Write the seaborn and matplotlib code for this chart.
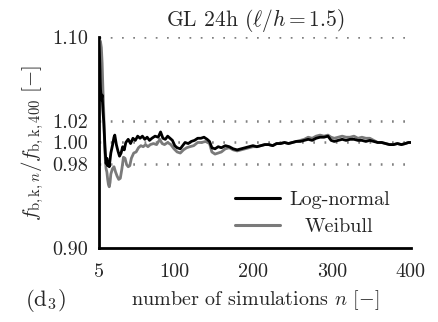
import numpy as np
import pandas as pd
import matplotlib
matplotlib.use("Agg")
import matplotlib.pyplot as plt
import seaborn as sns

# Convergence of the characteristic strength ratio f_{b,k,n} / f_{b,k,400}
n_lognormal = [5, 6, 7, 8, 9, 10, 11, 12, 13, 14, 15, 16, 17, 18, 20, 22, 24, 25, 27, 29,
               31, 33, 35, 37, 39, 42, 45, 48, 51, 54, 57, 60, 63, 66, 69, 72, 76, 80, 83, 86,
               89, 92, 95, 98, 101, 104, 108, 111, 114, 118, 122, 126, 130, 134, 138, 142, 145, 148, 152, 156,
               160, 165, 170, 175, 180, 185, 190, 195, 200, 205, 210, 215, 220, 225, 230, 235, 240, 245, 250, 255,
               260, 265, 270, 275, 280, 285, 290, 295, 299, 303, 308, 313, 318, 323, 328, 333, 338, 343, 348, 353,
               358, 363, 368, 373, 378, 383, 388, 393, 397, 400]
ratio_lognormal = [1.100, 1.075, 1.050, 1.040, 1.045, 1.030, 1.020, 1.005, 0.990, 0.980, 0.985, 0.978, 0.982, 0.977, 0.990, 0.997, 1.005, 1.007, 0.998, 0.992,
                   0.987, 0.990, 0.996, 0.993, 1.000, 1.003, 0.999, 1.004, 1.002, 1.006, 1.004, 1.006, 1.003, 1.005, 1.002, 1.004, 1.006, 1.005, 1.010, 1.004,
                   1.003, 1.006, 1.004, 1.002, 0.997, 0.995, 0.994, 0.997, 1.000, 0.999, 1.001, 1.002, 1.004, 1.004, 1.005, 1.003, 1.001, 0.995, 0.994, 0.996,
                   0.995, 0.997, 0.996, 0.994, 0.993, 0.994, 0.995, 0.996, 0.997, 0.996, 0.997, 0.998, 0.998, 0.997, 0.999, 0.999, 1.000, 0.999, 1.000, 1.001,
                   1.001, 1.002, 1.003, 1.002, 1.004, 1.005, 1.005, 1.006, 1.002, 1.001, 1.002, 1.003, 1.002, 1.003, 1.003, 1.002, 1.002, 1.001, 1.002, 1.001,
                   1.000, 1.000, 0.999, 0.998, 0.998, 0.999, 0.998, 0.999, 1.000, 1.000]

n_weibull = [5, 6, 7, 8, 9, 10, 11, 12, 13, 14, 15, 16, 17, 18, 19, 20, 22, 24, 26, 28,
             30, 32, 34, 36, 38, 40, 42, 44, 46, 49, 52, 55, 58, 61, 64, 67, 70, 74, 78, 82,
             85, 88, 92, 96, 100, 104, 108, 112, 116, 120, 125, 130, 135, 140, 145, 148, 152, 156, 160, 165,
             170, 175, 180, 185, 190, 195, 200, 205, 210, 215, 220, 225, 230, 235, 240, 245, 250, 255, 260, 265,
             270, 275, 280, 285, 290, 295, 299, 303, 308, 313, 318, 323, 328, 333, 338, 343, 348, 353, 358, 363,
             368, 373, 378, 383, 388, 393, 397, 400]
ratio_weibull = [1.060, 1.097, 1.095, 1.090, 1.075, 1.050, 1.030, 1.000, 0.984, 0.975, 0.972, 0.965, 0.960, 0.958, 0.962, 0.970, 0.975, 0.977, 0.972, 0.968,
                 0.965, 0.966, 0.975, 0.986, 0.985, 0.979, 0.977, 0.978, 0.985, 0.990, 0.991, 0.995, 0.997, 0.996, 0.998, 0.996, 0.998, 0.999, 0.998, 1.003,
                 0.999, 0.998, 1.000, 0.998, 0.994, 0.991, 0.990, 0.993, 0.995, 0.996, 0.997, 1.000, 1.000, 1.001, 0.999, 0.991, 0.989, 0.990, 0.991, 0.994,
                 0.995, 0.993, 0.992, 0.993, 0.994, 0.995, 0.996, 0.996, 0.997, 0.998, 0.998, 0.997, 0.999, 0.999, 1.000, 0.999, 1.000, 1.001, 1.002, 1.003,
                 1.005, 1.004, 1.006, 1.007, 1.006, 1.007, 1.005, 1.004, 1.005, 1.006, 1.005, 1.005, 1.006, 1.004, 1.005, 1.004, 1.004, 1.002, 1.000, 1.000,
                 0.999, 0.998, 0.998, 0.999, 0.998, 0.999, 1.000, 1.000]

series_labels = ["Log-normal", "Weibull"]
x_ticks = [5, 100, 200, 300, 400]
y_ticks = [0.90, 0.98, 1.00, 1.02, 1.10]
y_grid = [0.98, 1.00, 1.02, 1.10]

df = pd.concat([
    pd.DataFrame({"n": n_weibull, "ratio": ratio_weibull, "dist": series_labels[1]}),
    pd.DataFrame({"n": n_lognormal, "ratio": ratio_lognormal, "dist": series_labels[0]}),
])

sns.set_theme(style="white")
plt.rcParams["font.family"] = ["cmr10", "DejaVu Serif"]
plt.rcParams["mathtext.fontset"] = "cm"
plt.rcParams["axes.unicode_minus"] = False
plt.rcParams["axes.formatter.use_mathtext"] = True

fig = plt.figure(figsize=(4.38, 3.22), dpi=100)
ax = fig.add_axes([0.226, 0.230, 0.712, 0.655])

for yv in y_grid:
    ax.axhline(yv, color="#808080", lw=1.8, ls=(0, (0.7, 3.8)), xmax=0.985, zorder=1)

palette = {series_labels[0]: "black", series_labels[1]: "#7a7a7a"}
sns.lineplot(data=df, x="n", y="ratio", hue="dist", palette=palette,
             hue_order=[series_labels[1], series_labels[0]],
             lw=2.0, ax=ax, legend=False, estimator=None, sort=False, zorder=3)

ax.set_xlim(5, 400)
ax.set_ylim(0.90, 1.10)
ax.set_xticks(x_ticks)
ax.set_xticklabels([str(t) for t in x_ticks])
ax.set_yticks(y_ticks)
ax.set_yticklabels([f"{t:.2f}" for t in y_ticks])
ax.tick_params(axis="x", direction="out", length=7, width=1.0, color="#888888",
               labelsize=14.5, pad=4)
ax.tick_params(axis="y", direction="in", length=4, width=1.0, color="#888888",
               labelsize=14.5, pad=8)

for side in ["top", "right"]:
    ax.spines[side].set_visible(False)
for side in ["left", "bottom"]:
    ax.spines[side].set_color("black")
    ax.spines[side].set_linewidth(2.0)

ax.set_title(r"GL 24h ($\ell/h = 1.5$)", fontsize=15.5, pad=8)
ax.set_xlabel(r"number of simulations $n$ [$-$]", fontsize=14.5, labelpad=5)
ax.set_ylabel(r"$f_{\mathrm{b,k},n}/f_{\mathrm{b,k},400}$ [$-$]", fontsize=15, labelpad=4)

handles = [plt.Line2D([], [], color="black", lw=2.2),
           plt.Line2D([], [], color="#7a7a7a", lw=2.2)]
leg = ax.legend(handles, series_labels, loc="lower right", bbox_to_anchor=(0.99, -0.03),
                frameon=False, fontsize=14.5, handlelength=2.2, handletextpad=0.45,
                labelspacing=0.45)

# center the shorter label under the longer one
fig.canvas.draw()
renderer = fig.canvas.get_renderer()
texts = leg.get_texts()
w0 = texts[0].get_window_extent(renderer).width
w1 = texts[1].get_window_extent(renderer).width
texts[1].set_x((w0 - w1) / 2)

fig.text(0.057, 0.068, r"(d$_3$)", fontsize=16.5, ha="left", va="center")

fig.savefig("out.png", dpi=100)
